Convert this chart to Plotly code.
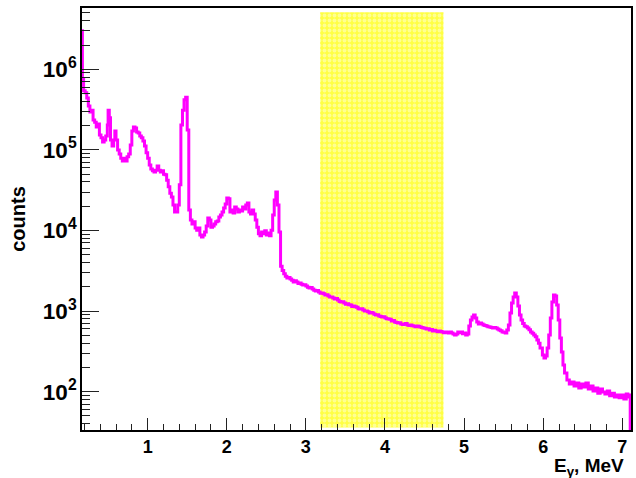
import plotly.graph_objects as go

# ---- data (energy in MeV, counts) ----
energy = [
    0.170, 0.175, 0.19, 0.21, 0.23, 0.25, 0.27, 0.29, 0.31, 0.33, 0.35, 0.37, 0.39, 0.41, 0.43, 0.45,
    0.47, 0.49, 0.50, 0.515, 0.53, 0.55, 0.57, 0.585, 0.60, 0.62, 0.64, 0.66, 0.68, 0.70, 0.72, 0.74,
    0.76, 0.78, 0.80, 0.82, 0.84, 0.86, 0.88, 0.90, 0.92, 0.94, 0.96, 0.98, 1.00, 1.02, 1.04, 1.06,
    1.08, 1.10, 1.12, 1.14, 1.16, 1.18, 1.20, 1.22, 1.24, 1.26, 1.28, 1.30, 1.32, 1.34, 1.36, 1.38,
    1.40, 1.42, 1.44, 1.46, 1.48, 1.50, 1.52, 1.54, 1.56, 1.58, 1.60, 1.62, 1.64, 1.66, 1.68, 1.70,
    1.72, 1.74, 1.76, 1.78, 1.80, 1.82, 1.84, 1.86, 1.88, 1.90, 1.92, 1.94, 1.96, 1.98, 2.00, 2.02,
    2.04, 2.06, 2.08, 2.10, 2.12, 2.14, 2.16, 2.18, 2.20, 2.22, 2.24, 2.26, 2.28, 2.30, 2.32, 2.34,
    2.36, 2.38, 2.40, 2.42, 2.44, 2.46, 2.48, 2.50, 2.52, 2.54, 2.56, 2.58, 2.60, 2.62, 2.64, 2.66,
    2.68, 2.70, 2.72, 2.74, 2.76, 2.78, 2.80, 2.82, 2.84, 2.86, 2.88, 2.90, 2.92, 2.94, 2.96, 2.98,
    3.00, 3.02, 3.04, 3.06, 3.08, 3.10, 3.12, 3.14, 3.16, 3.18, 3.20, 3.22, 3.24, 3.26, 3.28, 3.30,
    3.32, 3.34, 3.36, 3.38, 3.40, 3.42, 3.44, 3.46, 3.48, 3.50, 3.52, 3.54, 3.56, 3.58, 3.60, 3.62,
    3.64, 3.66, 3.68, 3.70, 3.72, 3.74, 3.76, 3.78, 3.80, 3.82, 3.84, 3.86, 3.88, 3.90, 3.92, 3.94,
    3.96, 3.98, 4.00, 4.02, 4.04, 4.06, 4.08, 4.10, 4.12, 4.14, 4.16, 4.18, 4.20, 4.22, 4.24, 4.26,
    4.28, 4.30, 4.32, 4.34, 4.36, 4.38, 4.40, 4.42, 4.44, 4.46, 4.48, 4.50, 4.52, 4.54, 4.56, 4.58,
    4.60, 4.62, 4.64, 4.66, 4.68, 4.70, 4.72, 4.74, 4.76, 4.78, 4.80, 4.82, 4.84, 4.86, 4.88, 4.90,
    4.92, 4.94, 4.96, 4.98, 5.00, 5.02, 5.04, 5.06,
    5.08, 5.10, 5.12, 5.14, 5.16, 5.18, 5.20, 5.22, 5.24, 5.26, 5.28, 5.30, 5.32, 5.34, 5.36, 5.38,
    5.40, 5.42, 5.44, 5.46, 5.48, 5.50, 5.52, 5.54,
    5.56, 5.58, 5.60, 5.62, 5.64, 5.66, 5.68, 5.70, 5.72, 5.74, 5.76, 5.78, 5.80, 5.82, 5.84, 5.86,
    5.88, 5.90, 5.92, 5.94, 5.96, 5.99,
    6.01, 6.03, 6.05, 6.07, 6.09, 6.11, 6.13, 6.15, 6.17, 6.19, 6.21, 6.23, 6.25, 6.27, 6.30, 6.33,
    6.36, 6.39, 6.42, 6.45, 6.48, 6.51, 6.54, 6.57, 6.60, 6.63, 6.66, 6.69, 6.72, 6.75, 6.78, 6.81,
    6.84, 6.87, 6.90, 6.93, 6.96, 6.99, 7.02, 7.05, 7.07, 7.09, 7.10,
]
counts = [
    3.0e6, 7.5e5, 5.4e5, 5.1e5, 4.4e5, 3.5e5, 2.95e5, 3.1e5, 2.35e5, 2.2e5, 1.92e5, 2.1e5, 1.53e5, 1.41e5, 1.25e5, 1.33e5,
    1.49e5, 2.04e5, 3.1e5, 2.5e5, 1.33e5, 1.12e5, 1.33e5, 1.72e5, 1.33e5, 1.0e5, 8.9e4, 7.9e4, 7.3e4, 7.9e4, 7.3e4, 8.2e4,
    8.9e4, 1.15e5, 1.72e5, 1.92e5, 1.87e5, 1.67e5, 1.62e5, 1.49e5, 1.41e5, 1.29e5, 1.12e5, 9.2e4, 7.9e4, 6.5e4, 5.8e4, 5.5e4,
    5.3e4, 5.6e4, 6.3e4, 5.6e4, 5.3e4, 5.5e4, 5.0e4, 4.9e4, 4.2e4, 3.5e4, 2.9e4, 2.6e4, 2.07e4, 1.7e4, 1.7e4, 2.07e4,
    3.7e4, 2.04e5, 3.1e5, 4.2e5, 4.5e5, 1.77e5, 1.8e4, 1.35e4, 1.2e4, 1.28e4, 1.07e4, 1.01e4, 1.07e4, 8.8e3, 8.3e3, 8.8e3,
    9.6e3, 1.14e4, 1.43e4, 1.35e4, 1.1e4, 1.14e4, 1.2e4, 1.28e4, 1.31e4, 1.47e4, 1.56e4, 1.7e4, 1.9e4, 2.13e4, 2.53e4, 2.47e4,
    1.7e4, 1.8e4, 1.65e4, 1.96e4, 1.85e4, 1.7e4, 1.8e4, 1.75e4, 1.96e4, 1.85e4, 2.07e4, 2.19e4, 1.7e4, 1.6e4, 1.8e4, 1.6e4,
    1.35e4, 1.1e4, 9.1e3, 8.6e3, 9.6e3, 9.1e3, 9.9e3, 8.8e3, 9.3e3, 8.6e3, 1.01e4, 1.56e4, 2.39e4, 3.0e4, 2.07e4, 9.6e3,
    3.6e3, 3.2e3, 2.9e3, 2.7e3, 2.58e3, 2.62e3, 2.5e3, 2.42e3, 2.3e3, 2.38e3, 2.3e3, 2.2e3, 2.23e3, 2.15e3, 2.1e3, 2.12e3,
    2.05e3, 1.98e3, 1.94e3, 1.96e3, 1.88e3, 1.81e3, 1.78e3, 1.8e3, 1.73e3, 1.66e3, 1.68e3, 1.64e3, 1.58e3, 1.6e3, 1.54e3, 1.5e3,
    1.5e3, 1.45e3, 1.41e3, 1.43e3, 1.37e3, 1.32e3, 1.3e3, 1.31e3, 1.26e3, 1.22e3, 1.23e3, 1.2e3, 1.19e3, 1.14e3, 1.16e3, 1.13e3,
    1.12e3, 1.07e3, 1.06e3, 1.07e3, 1.03e3, 1.0e3, 1.0e3, 985, 948, 960, 948, 915, 895, 900, 870, 860,
    845, 850, 822, 805, 798, 790, 754, 765, 733, 720, 712, 718, 692, 680, 692, 700,
    673, 665, 673, 660, 653, 640, 653, 650, 635, 625, 618, 612, 600, 605, 583, 590,
    566, 578, 566, 555, 566, 560, 551, 540, 551, 545, 535, 550, 535, 520, 505, 520,
    551, 540, 551, 525, 535, 505, 520, 653,
    776, 845, 895, 822, 733, 692, 712, 690, 673, 665, 653, 640, 635, 625, 618, 628,
    618, 600, 583, 570, 551, 545, 535, 583,
    673, 948, 1.26e3, 1.5e3, 1.68e3, 1.5e3, 1.16e3, 895, 776, 700, 653, 640, 618, 585, 551, 530,
    505, 480, 438, 400, 348, 285,
    262, 277, 348, 505, 822, 1.3e3, 1.58e3, 1.54e3, 1.19e3, 776, 464, 311, 214, 171, 140, 125,
    132, 118, 128, 111, 125, 114, 128, 108, 118, 102, 111, 96, 108, 99, 94, 102,
    89, 96, 86, 91, 84, 91, 81, 94, 86, 91, 10,
]

# highlighted energy window (yellow band)
band_lo, band_hi = 3.18, 4.74
band_bottom, band_top = 36, 5.1e6

x_range = [0.17, 7.11]
y_range_log = [1.525, 6.76]

fig = go.Figure()

fig.add_trace(go.Scatter(
    x=[band_lo, band_hi, band_hi, band_lo, band_lo],
    y=[band_bottom, band_bottom, band_top, band_top, band_bottom],
    mode="lines", line=dict(width=0), fill="toself",
    fillcolor="#ffff66",
    fillpattern=dict(shape=".", bgcolor="#ffff44", fgcolor="#ffffe0", size=5, solidity=0.45),
    hoverinfo="skip", showlegend=False,
))

fig.add_trace(go.Scatter(
    x=energy, y=counts, mode="lines",
    line=dict(color="#ff00ff", width=3, shape="hv"),
    showlegend=False,
))

tick_font = dict(family="Liberation Sans, Arial, sans-serif", size=18, color="black", weight="bold")

fig.update_xaxes(
    range=x_range, showgrid=False, zeroline=False,
    showline=True, linecolor="black", linewidth=1.5, mirror=True,
    ticks="inside", ticklen=12, tickwidth=1, tickcolor="#222",
    dtick=1, tick0=0, tickfont=tick_font,
    minor=dict(ticks="inside", ticklen=6, dtick=0.2, tick0=0, tickcolor="#222", tickwidth=1, showgrid=False),
)
fig.update_yaxes(
    type="log", range=y_range_log, showgrid=False, zeroline=False,
    showline=True, linecolor="black", linewidth=1.5, mirror=True,
    ticks="inside", ticklen=17, tickwidth=1, tickcolor="#222",
    dtick=1, exponentformat="power", tickfont=tick_font,
    minor=dict(ticks="inside", ticklen=8, dtick="D1", tickcolor="#222", tickwidth=1, showgrid=False),
)

title_font = dict(family="Liberation Sans, Arial, sans-serif", size=19, color="black", weight="bold")
fig.add_annotation(text="counts", xref="paper", yref="paper", x=-0.117, y=0.5,
                   textangle=-90, showarrow=False, font=dict(title_font, size=20),
                   xanchor="center", yanchor="middle")
fig.add_annotation(text="E<sub>γ</sub>, MeV", xref="paper", yref="paper", x=0.991, y=-0.087,
                   showarrow=False, font=title_font, xanchor="right", yanchor="middle")

fig.update_layout(
    width=636, height=478,
    margin=dict(l=82, r=3, t=8, b=48),
    plot_bgcolor="white", paper_bgcolor="white",
    hovermode=False,
)

fig.write_html("out.html", config={"displayModeBar": False})
